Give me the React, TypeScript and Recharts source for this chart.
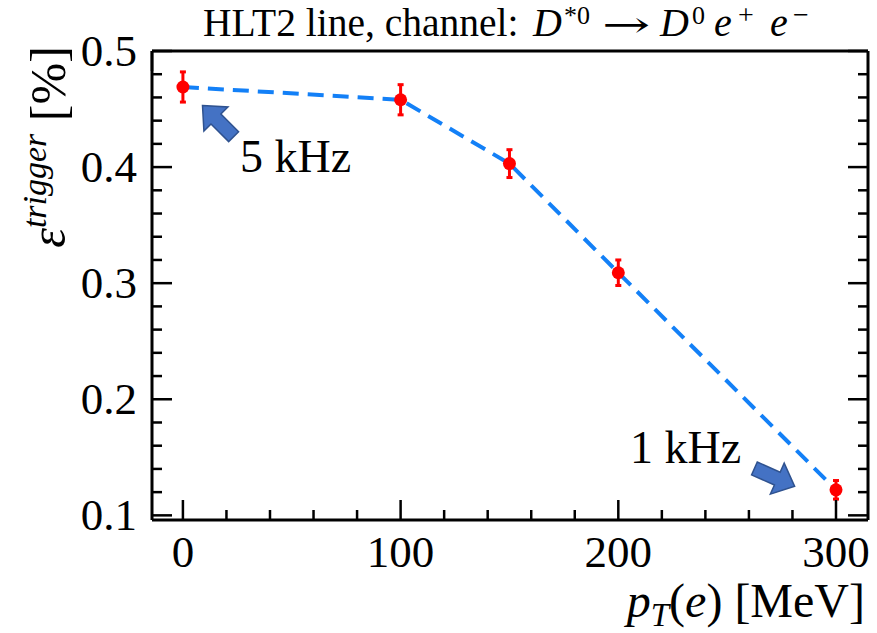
import React from "react";
import {
  ComposedChart,
  Line,
  Scatter,
  ErrorBar,
  XAxis,
  YAxis,
  ReferenceDot,
} from "recharts";

// trigger efficiency vs electron pT cut
const ptCuts = [0, 100, 150, 200, 300];
const efficiency = [0.469, 0.458, 0.403, 0.309, 0.122];
const effError = [0.013, 0.013, 0.012, 0.011, 0.008];

const xTicks = [0, 20, 40, 60, 80, 100, 120, 140, 160, 180, 200, 220, 240, 260, 280, 300];
const xMajor = [0, 100, 200, 300];
const yTicks = [
  0.1, 0.12, 0.14, 0.16, 0.18, 0.2, 0.22, 0.24, 0.26, 0.28, 0.3, 0.32, 0.34, 0.36, 0.38,
  0.4, 0.42, 0.44, 0.46, 0.48, 0.5,
];
const yMajor = [0.1, 0.2, 0.3, 0.4, 0.5];

// arrow tips for the rate annotations (data coords)
const arrowTips = [
  { x: 9, y: 0.453, angle: -135 },
  { x: 281, y: 0.125, angle: 24 },
];

const data = ptCuts.map((pt, i) => ({ pt, eff: efficiency[i], err: effError[i] }));

const FONT = "'Liberation Serif', 'Times New Roman', serif";
const LINE_BLUE = "#1380f7";
const X_DOMAIN: [number, number] = [-14.2, 314.7];
const Y_DOMAIN: [number, number] = [0.096, 0.5];

const BottomTick = ({ x, y, payload }: any) => {
  const major = xMajor.includes(payload.value);
  return (
    <g>
      <line x1={x} x2={x} y1={y} y2={y - (major ? 20 : 10)} stroke="#000" strokeWidth={2.5} />
      {major && (
        <text x={x} y={y + 47} textAnchor="middle" fontSize={45} fontFamily={FONT} fill="#000">
          {payload.value}
        </text>
      )}
    </g>
  );
};

const TopTick = ({ x, y, payload }: any) => {
  const major = xMajor.includes(payload.value);
  return <line x1={x} x2={x} y1={y} y2={y + (major ? 20 : 10)} stroke="#000" strokeWidth={2.5} />;
};

const LeftTick = ({ x, y, payload }: any) => {
  const major = yMajor.includes(payload.value);
  return (
    <g>
      <line x1={x} x2={x + (major ? 20 : 10)} y1={y} y2={y} stroke="#000" strokeWidth={2.5} />
      {major && (
        <text x={x - 15} y={y + 15} textAnchor="end" fontSize={45} fontFamily={FONT} fill="#000">
          {String(payload.value)}
        </text>
      )}
    </g>
  );
};

const RightTick = ({ x, y, payload }: any) => {
  const major = yMajor.includes(payload.value);
  return <line x1={x} x2={x - (major ? 20 : 10)} y1={y} y2={y} stroke="#000" strokeWidth={2.5} />;
};

const RedDot = ({ cx, cy }: any) => <circle cx={cx} cy={cy} r={6.5} fill="#ff0000" />;

const BlockArrow = ({ cx, cy, angle }: any) => {
  const H = 19, W = 17, S = 7, L = 44;
  const pts = [[0, 0], [-H, W], [-H, S], [-L, S], [-L, -S], [-H, -S], [-H, -W]];
  return (
    <polygon
      points={pts.map((p) => p.join(",")).join(" ")}
      transform={`translate(${cx},${cy}) rotate(${angle})`}
      fill="#4472C4"
      stroke="#2F528F"
      strokeWidth={1.5}
    />
  );
};

const axisStroke = { stroke: "#000", strokeWidth: 3 };

export default function App() {
  return (
    <div style={{ position: "absolute", left: 0, top: 0, width: 877, height: 633, background: "#fff" }}>
      <ComposedChart
        width={877}
        height={633}
        data={data}
        margin={{ top: 50, right: 8, bottom: 112, left: 151 }}
      >
        <XAxis
          dataKey="pt"
          type="number"
          domain={X_DOMAIN}
          ticks={xTicks}
          interval={0}
          height={1}
          tickSize={0}
          tickMargin={0}
          tick={<BottomTick />}
          tickLine={false}
          axisLine={axisStroke}
          allowDataOverflow
        />
        <XAxis
          xAxisId="top"
          orientation="top"
          type="number"
          domain={X_DOMAIN}
          ticks={xTicks}
          interval={0}
          height={1}
          tickSize={0}
          tickMargin={0}
          tick={<TopTick />}
          tickLine={false}
          axisLine={axisStroke}
          allowDataOverflow
        />
        <YAxis
          type="number"
          domain={Y_DOMAIN}
          ticks={yTicks}
          interval={0}
          width={1}
          tickSize={0}
          tickMargin={0}
          tick={<LeftTick />}
          tickLine={false}
          axisLine={axisStroke}
          allowDataOverflow
        />
        <YAxis
          yAxisId="right"
          orientation="right"
          type="number"
          domain={Y_DOMAIN}
          ticks={yTicks}
          interval={0}
          width={1}
          tickSize={0}
          tickMargin={0}
          tick={<RightTick />}
          tickLine={false}
          axisLine={axisStroke}
          allowDataOverflow
        />

        <Line
          dataKey="eff"
          type="linear"
          stroke={LINE_BLUE}
          strokeWidth={4}
          strokeDasharray="16 9"
          dot={false}
          activeDot={false}
          isAnimationActive={false}
        />
        <Scatter dataKey="eff" shape={<RedDot />} isAnimationActive={false}>
          <ErrorBar dataKey="err" direction="y" width={3} stroke="#ff0000" strokeWidth={3} />
        </Scatter>

        {arrowTips.map((a, i) => (
          <ReferenceDot
            key={i}
            x={a.x}
            y={a.y}
            r={0}
            ifOverflow="visible"
            shape={(p: any) => <BlockArrow cx={p.cx} cy={p.cy} angle={a.angle} />}
          />
        ))}
      </ComposedChart>

      <svg
        width={877}
        height={633}
        style={{ position: "absolute", left: 0, top: 0, pointerEvents: "none" }}
        fontFamily={FONT}
      >
        <g fill="#000">
          <text x={203} y={36} fontSize={39.5}>{"HLT2 line, channel:"}</text>
          <text x={533} y={36} fontSize={40} fontStyle="italic">D</text>
          <text x={564} y={24} fontSize={26}>*0</text>
          <text
            transform="translate(602,37) scale(1.6,1)"
            fontSize={36}
            fontFamily="'DejaVu Serif', serif"
          >
            {"\u2192"}
          </text>
          <text x={660} y={36} fontSize={40} fontStyle="italic">D</text>
          <text x={692} y={24} fontSize={26}>0</text>
          <text x={714} y={36} fontSize={40} fontStyle="italic">e</text>
          <text x={738} y={24} fontSize={28}>+</text>
          <text x={770} y={36} fontSize={40} fontStyle="italic">e</text>
          <text x={793} y={24} fontSize={28}>{"\u2212"}</text>
        </g>

        <text x={865} y={617} textAnchor="end" fontSize={48} fill="#000">
          <tspan fontStyle="italic">p</tspan>
          <tspan fontStyle="italic" fontSize={33} dy={9}>T</tspan>
          <tspan dy={-9}>(</tspan>
          <tspan fontStyle="italic">e</tspan>
          <tspan>{") [MeV]"}</tspan>
        </text>

        <text transform="translate(65,147) rotate(-90)" textAnchor="middle" fontSize={50} fill="#000">
          <tspan fontStyle="italic">{"\u03b5"}</tspan>
          <tspan fontStyle="italic" fontSize={34} dy={-19}>trigger</tspan>
          <tspan dy={19}>{" [%]"}</tspan>
        </text>

        <text x={240} y={172} fontSize={46} fill="#000">5 kHz</text>
        <text x={630} y={463} fontSize={46} fill="#000">1 kHz</text>
      </svg>
    </div>
  );
}
